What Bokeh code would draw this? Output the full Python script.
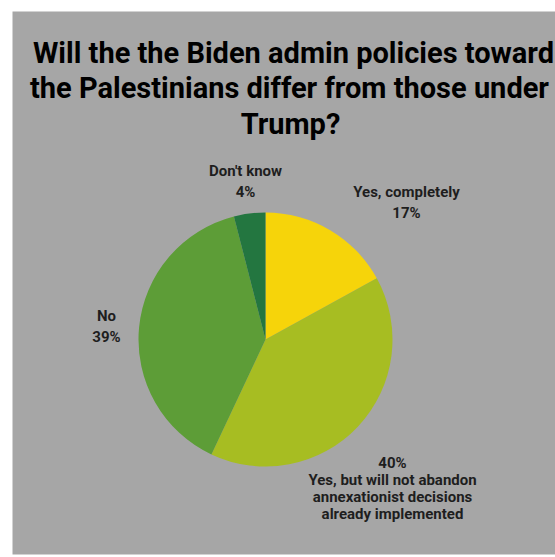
import numpy as np
from bokeh.plotting import figure
from bokeh.models import Range1d, ColumnDataSource
from bokeh.core.properties import value
from bokeh.embed import file_html
from bokeh.resources import INLINE

# Data
categories = ["Yes, completely", "Yes, but will not abandon annexationist decisions already implemented", "No", "Don't know"]
percents = [17, 40, 39, 4]
colors = ["#F6D40A", "#A7BD22", "#5D9D37", "#237640"]
title_lines = ["Will the the Biden admin policies toward",
               "the Palestinians differ from those under",
               "Trump?"]

W, H = 555, 555
L, T, R, B = 12, 11, 0, 1
FW, FH = W - L - R, H - T - B

p = figure(width=W, height=H, output_backend="svg", toolbar_location=None,
           x_range=Range1d(0, FW), y_range=Range1d(0, FH),
           min_border_left=L, min_border_top=T, min_border_right=R, min_border_bottom=B,
           background_fill_color="#A6A6A6", border_fill_color="white")
p.axis.visible = False
p.grid.visible = False
p.outline_line_color = None

# pixel helpers (pixel coordinates in the page -> data)
def px(x):
    return x - 12
def py(y):
    return 554 - y

# Pie
cx, cy, r = px(265), py(339), 127
vals = np.array(percents, dtype=float)
frac = vals / vals.sum()
cum = np.concatenate([[0], np.cumsum(frac)])
start = np.pi / 2 - 2 * np.pi * cum[1:]
end = np.pi / 2 - 2 * np.pi * cum[:-1]
src = ColumnDataSource(dict(start=start, end=end, color=colors, cat=categories))
p.wedge(x=cx, y=cy, radius=r, start_angle="start", end_angle="end",
        fill_color="color", line_color=None, source=src)

# Title
tx = [px(293), px(289), px(290)]
ty = [py(52), py(87), py(123)]
p.text(x=tx, y=ty, text=title_lines, text_align="center", text_baseline="middle",
       text_font=value("Roboto"), text_font_style="bold", text_font_size="29px",
       text_color="black")

# Labels
lab_font = value("Roboto")
def label(x, y, lines, dy=17):
    xs = [px(x)] * len(lines)
    ys = [py(y + i * dy) for i in range(len(lines))]
    p.text(x=xs, y=ys, text=lines, text_align="center", text_baseline="middle",
           text_font=lab_font, text_font_style="bold", text_font_size="15px",
           text_color="#1e1e1e")

label(245, 170, ["Don't know", f"{percents[3]}%"], dy=21)
label(406, 191, ["Yes, completely", f"{percents[0]}%"], dy=21)
label(106, 315, ["No", f"{percents[2]}%"], dy=21)
label(392, 462, [f"{percents[1]}%", "Yes, but will not abandon", "annexationist decisions", "already implemented"], dy=17)

open("out.html", "w").write(file_html(p, INLINE))
